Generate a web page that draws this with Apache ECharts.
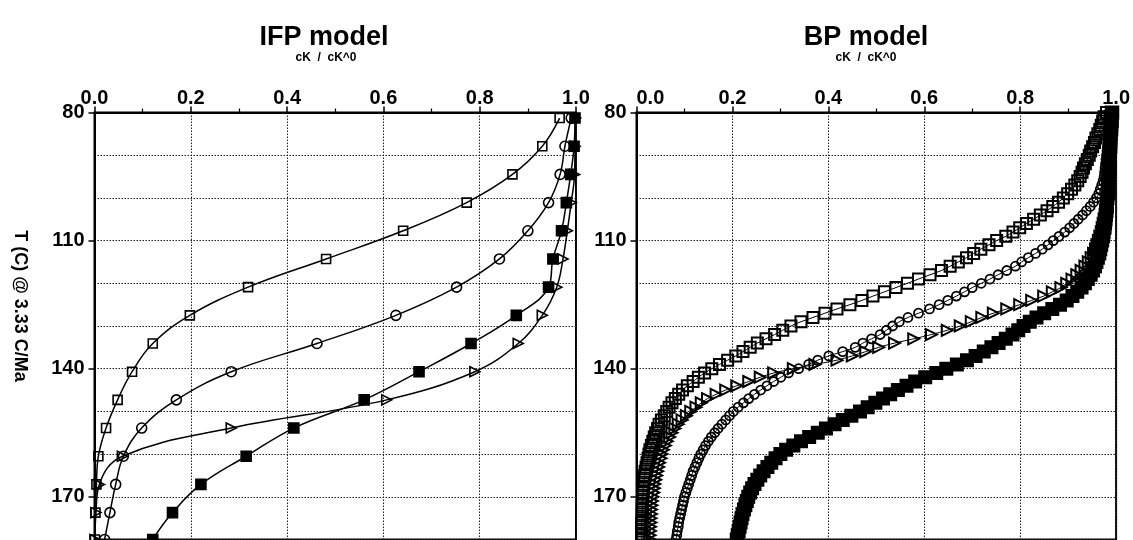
<!DOCTYPE html>
<html>
<head>
<meta charset="utf-8">
<script src="https://cdn.jsdelivr.net/npm/echarts@6/dist/echarts.min.js"></script>
<style>
  html, body { margin: 0; padding: 0; background: #fff; }
  #chart { width: 1133px; height: 540px; }
</style>
</head>
<body>
<div id="chart"></div>
<script>
// Temperature (C) at each IFP model step (heating at 3.33 C/Ma)
const tempIFP = [81.3, 87.9, 94.5, 101.1, 107.7, 114.3, 120.9, 127.5,
                 134.1, 140.7, 147.3, 153.9, 160.5, 167.1, 173.7, 180];

// IFP model: cK / cK^0
const ifpSquare   = [0.966, 0.930, 0.868, 0.773, 0.641, 0.481, 0.319, 0.198,
                     0.121, 0.078, 0.048, 0.024, 0.008, 0.004, 0.002, 0.001];
const ifpCircle   = [0.990, 0.977, 0.967, 0.943, 0.900, 0.841, 0.752, 0.626,
                     0.462, 0.284, 0.170, 0.098, 0.060, 0.044, 0.032, 0.021];
const ifpTriangle = [0.999, 0.998, 0.997, 0.990, 0.982, 0.973, 0.960, 0.930,
                     0.880, 0.790, 0.607, 0.284, 0.058, 0.010, 0.003, 0.001];
const ifpFilled   = [0.998, 0.996, 0.989, 0.980, 0.970, 0.952, 0.943, 0.876,
                     0.782, 0.674, 0.560, 0.414, 0.315, 0.221, 0.162, 0.121];

// Temperature (C) at each BP model step
const tempBP = [
  80, 81, 82, 83, 84, 85, 86, 87, 88, 89,
  90, 91, 92, 93, 94, 95, 96, 97, 98, 99,
  100, 101, 102, 103, 104, 105, 106, 107, 108, 109,
  110, 111, 112, 113, 114, 115, 116, 117, 118, 119,
  120, 121, 122, 123, 124, 125, 126, 127, 128, 129,
  130, 131, 132, 133, 134, 135, 136, 137, 138, 139,
  140, 141, 142, 143, 144, 145, 146, 147, 148, 149,
  150, 151, 152, 153, 154, 155, 156, 157, 158, 159,
  160, 161, 162, 163, 164, 165, 166, 167, 168, 169,
  170, 171, 172, 173, 174, 175, 176, 177, 178, 179,
  180
];

// BP model: cK / cK^0
const bpSquare = [
  0.980, 0.975, 0.972, 0.969, 0.966, 0.962, 0.958, 0.955, 0.951, 0.947,
  0.944, 0.940, 0.936, 0.932, 0.929, 0.925, 0.920, 0.914, 0.907, 0.899,
  0.890, 0.880, 0.868, 0.856, 0.842, 0.828, 0.813, 0.799, 0.785, 0.770,
  0.751, 0.735, 0.718, 0.703, 0.688, 0.671, 0.654, 0.636, 0.612, 0.588,
  0.565, 0.541, 0.517, 0.493, 0.470, 0.445, 0.418, 0.393, 0.368, 0.343,
  0.322, 0.305, 0.288, 0.270, 0.252, 0.237, 0.222, 0.207, 0.190, 0.173,
  0.157, 0.142, 0.129, 0.118, 0.106, 0.096, 0.088, 0.081, 0.074, 0.068,
  0.063, 0.058, 0.052, 0.047, 0.044, 0.040, 0.037, 0.034, 0.031, 0.028,
  0.026, 0.024, 0.022, 0.020, 0.018, 0.017, 0.016, 0.015, 0.014, 0.014,
  0.013, 0.013, 0.012, 0.012, 0.012, 0.012, 0.011, 0.011, 0.011, 0.011,
  0.011
];
const bpCircle = [
  0.988, 0.986, 0.985, 0.985, 0.984, 0.984, 0.983, 0.983, 0.982, 0.981,
  0.980, 0.979, 0.978, 0.977, 0.976, 0.975, 0.973, 0.970, 0.967, 0.964,
  0.959, 0.953, 0.946, 0.938, 0.930, 0.921, 0.912, 0.903, 0.893, 0.881,
  0.869, 0.858, 0.846, 0.832, 0.817, 0.803, 0.790, 0.772, 0.754, 0.737,
  0.719, 0.700, 0.684, 0.667, 0.649, 0.631, 0.611, 0.588, 0.566, 0.548,
  0.534, 0.521, 0.508, 0.490, 0.472, 0.456, 0.430, 0.401, 0.378, 0.359,
  0.338, 0.317, 0.301, 0.286, 0.272, 0.259, 0.246, 0.234, 0.223, 0.212,
  0.202, 0.194, 0.186, 0.178, 0.170, 0.163, 0.156, 0.150, 0.144, 0.139,
  0.134, 0.130, 0.126, 0.122, 0.118, 0.115, 0.112, 0.109, 0.106, 0.103,
  0.100, 0.098, 0.096, 0.094, 0.092, 0.090, 0.088, 0.087, 0.085, 0.084,
  0.082
];
const bpTriangle = [
  0.990, 0.989, 0.988, 0.988, 0.988, 0.987, 0.987, 0.987, 0.986, 0.986,
  0.986, 0.985, 0.985, 0.985, 0.984, 0.984, 0.983, 0.983, 0.982, 0.982,
  0.981, 0.980, 0.979, 0.978, 0.977, 0.975, 0.973, 0.971, 0.969, 0.966,
  0.963, 0.960, 0.957, 0.953, 0.948, 0.942, 0.935, 0.927, 0.918, 0.908,
  0.897, 0.885, 0.867, 0.849, 0.824, 0.799, 0.772, 0.744, 0.720, 0.698,
  0.675, 0.648, 0.615, 0.578, 0.538, 0.505, 0.478, 0.450, 0.418, 0.372,
  0.327, 0.286, 0.258, 0.234, 0.209, 0.186, 0.166, 0.148, 0.135, 0.124,
  0.113, 0.104, 0.095, 0.087, 0.080, 0.074, 0.069, 0.064, 0.060, 0.056,
  0.053, 0.051, 0.048, 0.046, 0.044, 0.042, 0.040, 0.038, 0.037, 0.036,
  0.034, 0.033, 0.032, 0.031, 0.031, 0.030, 0.030, 0.029, 0.029, 0.028,
  0.028
];
const bpFilled = [
  0.992, 0.991, 0.991, 0.990, 0.990, 0.989, 0.988, 0.988, 0.988, 0.987,
  0.987, 0.987, 0.986, 0.986, 0.985, 0.985, 0.985, 0.984, 0.984, 0.983,
  0.982, 0.981, 0.981, 0.980, 0.979, 0.978, 0.977, 0.976, 0.974, 0.973,
  0.971, 0.969, 0.967, 0.965, 0.962, 0.959, 0.956, 0.952, 0.947, 0.941,
  0.935, 0.928, 0.919, 0.909, 0.897, 0.883, 0.867, 0.850, 0.834, 0.820,
  0.807, 0.796, 0.784, 0.770, 0.755, 0.740, 0.724, 0.707, 0.689, 0.668,
  0.646, 0.625, 0.602, 0.581, 0.563, 0.545, 0.529, 0.514, 0.498, 0.482,
  0.466, 0.448, 0.430, 0.413, 0.395, 0.378, 0.360, 0.343, 0.327, 0.312,
  0.300, 0.290, 0.281, 0.273, 0.265, 0.258, 0.252, 0.246, 0.241, 0.237,
  0.233, 0.230, 0.227, 0.224, 0.221, 0.219, 0.217, 0.215, 0.213, 0.211,
  0.209
];

const xTicks = [0, 0.2, 0.4, 0.6, 0.8, 1.0];
const yTickLabels = [80, 110, 140, 170];

const FONT = '"Liberation Sans", Arial, Helvetica, sans-serif';
const INK = '#000';
const RIGHT_TRI = 'path://M0,0 L10,5 L0,10 Z';
const DOTTED = { color: '#222', width: 1, type: [1.5, 1.5] };

function pairs(xs, ts) { return xs.map((v, i) => [v, ts[i]]); }

function xAxisFor(gridIndex, alignMin) {
  return {
    gridIndex, type: 'value', position: 'top',
    min: xTicks[0], max: xTicks[xTicks.length - 1], interval: 0.2,
    axisLine: { show: true, lineStyle: { color: INK, width: 2 } },
    axisTick: { show: true, inside: false, length: 6, lineStyle: { color: INK, width: 1.5 } },
    minorTick: { show: true, splitNumber: 2, length: 4, lineStyle: { color: INK, width: 1.2 } },
    axisLabel: {
      show: true, margin: 4, color: INK, fontFamily: FONT, fontWeight: 'bold', fontSize: 20,
      formatter: v => v.toFixed(1),
      alignMinLabel: alignMin
    },
    splitLine: { show: true, lineStyle: DOTTED }
  };
}

function yLabelAxis(gridIndex) {
  return {
    gridIndex, type: 'value', inverse: true, position: 'left',
    min: 80, max: 180, interval: 30,
    axisLine: { show: true, lineStyle: { color: INK, width: 2 } },
    axisTick: { show: true, inside: false, length: 6, lineStyle: { color: INK, width: 1.5 } },
    axisLabel: {
      show: true, margin: 10, color: INK, fontFamily: FONT, fontWeight: 'bold', fontSize: 20,
      showMaxLabel: false,
      formatter: v => (yTickLabels.indexOf(v) >= 0 ? String(v) : '')
    },
    splitLine: { show: false }
  };
}

function yGridAxis(gridIndex) {
  return {
    gridIndex, type: 'value', inverse: true, position: 'left',
    min: 80, max: 180, interval: 10,
    axisLine: { show: false }, axisTick: { show: false }, axisLabel: { show: false },
    splitLine: { show: true, lineStyle: DOTTED }
  };
}

function lineSeries(xAxisIndex, yAxisIndex, data, sym, filled, size, lw, bw, smooth) {
  return {
    type: 'line', xAxisIndex, yAxisIndex, data,
    symbol: sym, symbolSize: size, showAllSymbol: true,
    smooth: smooth, z: filled ? 4 : 3,
    lineStyle: { color: INK, width: lw },
    itemStyle: {
      color: filled ? INK : 'rgba(255,255,255,0)',
      borderColor: INK, borderWidth: bw
    },
    emphasis: { disabled: true },
    clip: false
  };
}

const chart = echarts.init(document.getElementById('chart'), null, { renderer: 'canvas' });

chart.setOption({
  animation: false,
  backgroundColor: '#fff',
  grid: [
    { left: 94.5, right: 1133 - 576, top: 112.5, bottom: 0.5, show: true, borderColor: INK, borderWidth: 2, backgroundColor: 'transparent' },
    { left: 636.5, right: 10.5, top: 112.5, bottom: 0.5, show: true, borderColor: INK, borderWidth: 2, backgroundColor: 'transparent' }
  ],
  xAxis: [xAxisFor(0, 'center'), xAxisFor(1, 'left')],
  yAxis: [yLabelAxis(0), yGridAxis(0), yLabelAxis(1), yGridAxis(1)],
  graphic: [
    { type: 'text', x: 324, y: 38, style: { text: 'IFP model', fill: INK, font: 'bold 27px ' + FONT, textAlign: 'center', textVerticalAlign: 'middle' } },
    { type: 'text', x: 326, y: 58, style: { text: 'cK  /  cK^0', fill: INK, font: 'bold 12px ' + FONT, textAlign: 'center', textVerticalAlign: 'middle' } },
    { type: 'text', x: 866, y: 38, style: { text: 'BP model', fill: INK, font: 'bold 27px ' + FONT, textAlign: 'center', textVerticalAlign: 'middle' } },
    { type: 'text', x: 866, y: 58, style: { text: 'cK  /  cK^0', fill: INK, font: 'bold 12px ' + FONT, textAlign: 'center', textVerticalAlign: 'middle' } },
    { type: 'text', x: 20, y: 306, rotation: -Math.PI / 2,
      style: { text: 'T (C) @ 3.33 C/Ma', fill: INK, font: 'bold 18px ' + FONT, textAlign: 'center', textVerticalAlign: 'middle' } }
  ],
  series: [
    lineSeries(0, 0, pairs(ifpSquare, tempIFP), 'rect', false, 9, 1.5, 1.6, 0.4),
    lineSeries(0, 0, pairs(ifpCircle, tempIFP), 'circle', false, 10, 1.5, 1.6, 0.4),
    lineSeries(0, 0, pairs(ifpTriangle, tempIFP), RIGHT_TRI, false, 10, 1.5, 1.6, 0.4),
    lineSeries(0, 0, pairs(ifpFilled, tempIFP), 'rect', true, 10, 1.5, 1.6, 0.4),
    lineSeries(1, 2, pairs(bpSquare, tempBP), 'rect', false, 11, 1, 2, 0.3),
    lineSeries(1, 2, pairs(bpCircle, tempBP), 'circle', false, 9, 1, 1.8, 0.3),
    lineSeries(1, 2, pairs(bpTriangle, tempBP), RIGHT_TRI, false, 11, 1, 2, 0.3),
    lineSeries(1, 2, pairs(bpFilled, tempBP), 'rect', true, 12, 1, 2, 0.3)
  ]
});
</script>
</body>
</html>
